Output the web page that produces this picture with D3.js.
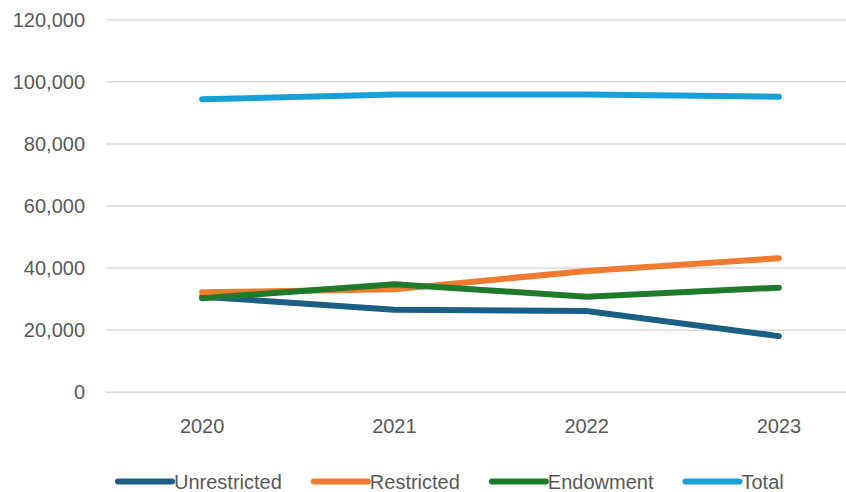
<!DOCTYPE html>
<html>
<head>
<meta charset="utf-8">
<script src="https://cdn.jsdelivr.net/npm/d3@7"></script>
<style>
  body { margin: 0; background: #fff; }
  text { font-family: "Liberation Sans", Arial, sans-serif; fill: #595959; }
</style>
</head>
<body>
<svg id="chart" width="846" height="492"></svg>
<script>
var years = ['2020', '2021', '2022', '2023'];
var yTicks = [0, 20000, 40000, 60000, 80000, 100000, 120000];

var unrestricted = [30800, 26600, 26200, 18100];
var restricted = [32200, 33200, 39100, 43200];
var endowment = [30300, 34800, 30800, 33700];
var total = [94400, 95900, 95900, 95200];

var seriesNames = ['Unrestricted', 'Restricted', 'Endowment', 'Total'];
var seriesValues = [unrestricted, restricted, endowment, total];
var seriesColors = ['#1b5f86', '#f07a30', '#1f7a2b', '#1aa0d8'];

var svg = d3.select('#chart');

var x = d3.scaleBand().domain(years).range([106, 875]);
var y = d3.scaleLinear().domain([0, 120000]).range([392.3, 19.7]);

// gridlines
svg.append('g').selectAll('line').data(yTicks).enter().append('line')
  .attr('x1', 106).attr('x2', 846)
  .attr('y1', function (d) { return y(d); })
  .attr('y2', function (d) { return y(d); })
  .attr('stroke', '#d9d9d9').attr('stroke-width', 1.5);

// y axis labels
var fmt = d3.format(',');
svg.append('g').selectAll('text').data(yTicks).enter().append('text')
  .attr('x', 85)
  .attr('y', function (d) { return y(d); })
  .attr('dy', '0.35em')
  .attr('text-anchor', 'end')
  .style('font-size', '20px')
  .text(function (d) { return fmt(d); });

// x axis labels
svg.append('g').selectAll('text').data(years).enter().append('text')
  .attr('x', function (d) { return x(d) + x.bandwidth() / 2; })
  .attr('y', 433)
  .attr('text-anchor', 'middle')
  .style('font-size', '20px')
  .text(function (d) { return d; });

// lines
var line = d3.line()
  .x(function (d, i) { return x(years[i]) + x.bandwidth() / 2; })
  .y(function (d) { return y(d); });

svg.append('g').selectAll('path').data(seriesValues).enter().append('path')
  .attr('d', line)
  .attr('fill', 'none')
  .attr('stroke', function (d, i) { return seriesColors[i]; })
  .attr('stroke-width', 6)
  .attr('stroke-linecap', 'round')
  .attr('stroke-linejoin', 'round');

// legend
var lx = 118;
var legend = svg.append('g');
seriesNames.forEach(function (name, i) {
  legend.append('line')
    .attr('x1', lx).attr('x2', lx + 54)
    .attr('y1', 481.5).attr('y2', 481.5)
    .attr('stroke', seriesColors[i])
    .attr('stroke-width', 6)
    .attr('stroke-linecap', 'round');
  var t = legend.append('text')
    .attr('x', lx + 56)
    .attr('y', 488.5)
    .style('font-size', '20px')
    .text(name);
  lx = lx + 56 + t.node().getComputedTextLength() + 32;
});
</script>
</body>
</html>
